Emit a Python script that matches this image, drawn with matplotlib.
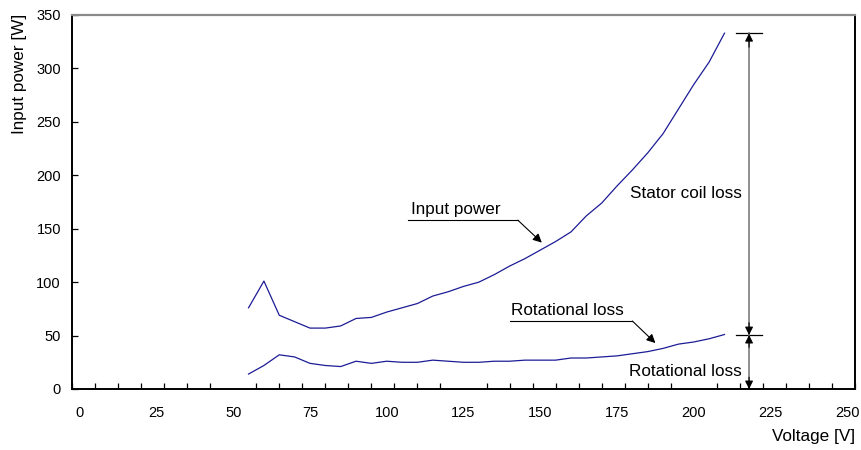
import matplotlib
matplotlib.use("Agg")
import matplotlib.pyplot as plt

plt.rcParams["font.family"] = ["Liberation Sans", "DejaVu Sans"]

# --- data ------------------------------------------------------------------
voltage = [55, 60, 65, 70, 75, 80, 85, 90, 95, 100, 105, 110, 115, 120, 125, 130,
           135, 140, 145, 150, 155, 160, 165, 170, 175, 180, 185, 190, 195, 200,
           205, 210]
input_power = [76, 101, 69, 63, 57, 57, 59, 66, 67, 72, 76, 80, 87, 91, 96, 100,
               107, 115, 122, 130, 138, 147, 162, 174, 190, 205, 221, 239, 262, 285,
               306, 333]
rotational_loss = [14, 22, 32, 30, 24, 22, 21, 26, 24, 26, 25, 25, 27, 26, 25, 25,
                   26, 26, 27, 27, 27, 29, 29, 30, 31, 33, 35, 38, 42, 44,
                   47, 51]

x_labels = [0, 25, 50, 75, 100, 125, 150, 175, 200, 225, 250]
y_labels = [0, 50, 100, 150, 200, 250, 300, 350]

LINE = "#1c1c96"
GRAY = "#707070"
FS = 12.3

fig = plt.figure(figsize=(8.61, 4.5), dpi=100)
ax = fig.add_axes([72 / 861, 1 - 389 / 450, (855 - 72) / 861, (389 - 15) / 450])

ax.plot(voltage, input_power, color=LINE, lw=0.9)
ax.plot(voltage, rotational_loss, color=LINE, lw=0.9)

ax.set_xlim(-2.5, 252.5)
ax.set_ylim(0, 350)

ax.set_xticks(x_labels)
ax.set_xticks([-2.5 + 7.5 * k for k in range(35)], minor=True)
ax.tick_params(axis="x", which="major", length=0, pad=12, labelsize=10.5)
ax.tick_params(axis="x", which="minor", direction="in", length=4, width=0.9)
ax.set_yticks(y_labels)
ax.tick_params(axis="y", direction="in", length=4, width=0.9, pad=8, labelsize=10.5)

for side in ("left", "bottom", "right"):
    ax.spines[side].set_color("black")
    ax.spines[side].set_linewidth(1.4)
ax.spines["top"].set_color("#8a8a8a")
ax.spines["top"].set_linewidth(1.6)

fig.text(20 / 861, 1 - 74 / 450, "Input power [W]", rotation=90,
         ha="center", va="center", fontsize=FS)
fig.text(855 / 861, 1 - 437 / 450, "Voltage [V]", ha="right", va="center",
         fontsize=FS)


def callout(label, tx, ty, x0, x1, yline, tip):
    ax.text(tx, ty, label, fontsize=FS, va="bottom")
    ax.plot([x0, x1], [yline, yline], color="black", lw=0.8)
    ax.annotate("", xy=tip, xytext=(x1, yline),
                arrowprops=dict(arrowstyle="-|>", color="black", lw=0.8,
                                mutation_scale=13, shrinkA=0, shrinkB=0))


def arrow_head(x, y_from, y_to):
    ax.annotate("", xy=(x, y_to), xytext=(x, y_from), annotation_clip=False,
                arrowprops=dict(arrowstyle="-|>", color="black", lw=0.8,
                                mutation_scale=12, shrinkA=0, shrinkB=0))


# --- callouts --------------------------------------------------------------
callout("Input power", 108, 161, 107, 142.7, 158, (150.5, 137))
callout("Rotational loss", 140.5, 66.5, 140, 180, 63.6, (187.5, 43))

# dimension arrows on the right
ax.plot([213.8, 222.3], [333, 333], color="black", lw=0.9)
ax.plot([213.8, 222.3], [50.5, 50.5], color="black", lw=0.9)
ax.plot([218, 218], [0, 333], color=GRAY, lw=1.1, clip_on=False)
arrow_head(218, 320, 333)
arrow_head(218, 62, 50.5)
arrow_head(218, 39, 50.5)
arrow_head(218, 11, 0)
ax.text(215.5, 182.5, "Stator coil loss", fontsize=FS, ha="right", va="center")
ax.text(215.5, 16, "Rotational loss", fontsize=FS, ha="right", va="center")

fig.savefig("out.png", dpi=100)
